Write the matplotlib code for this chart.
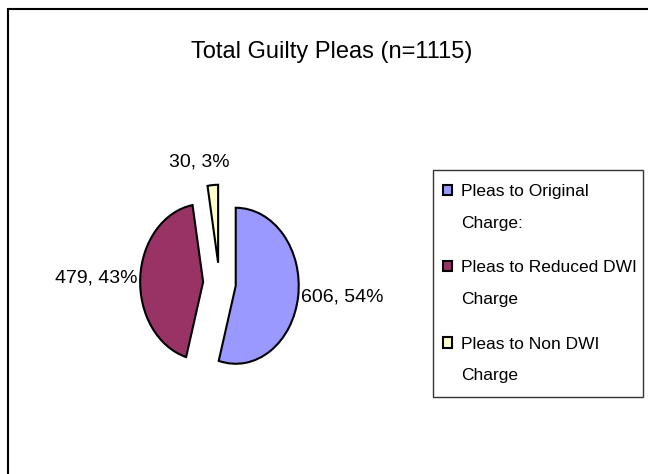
import matplotlib.pyplot as plt
from matplotlib.patches import Rectangle
from matplotlib.legend_handler import HandlerPatch

# pie data
labels = ["Pleas to Original\nCharge:", "Pleas to Reduced DWI\nCharge", "Pleas to Non DWI\nCharge"]
counts = [606, 479, 30]
colors = ["#9999FF", "#993366", "#FFFFCC"]
title = "Total Guilty Pleas (n=1115)"

plt.rcParams['font.family'] = ['Liberation Sans Narrow', 'Liberation Sans', 'DejaVu Sans']

W, H = 648, 474
fig = plt.figure(figsize=(W / 100, H / 100), dpi=100)

# outer chart border (left + top only visible)
fig.add_artist(Rectangle((8 / W, -0.1), 2.0, 1.1 - 9 / H, transform=fig.transFigure,
                         fill=False, edgecolor="black", linewidth=1.5))

# pie axes, stretched so the pie is an ellipse like the excel one
cx, cy, rx, ry = 219.5, 283, 63, 78
ax = fig.add_axes([(cx - 1.25 * rx) / W, 1 - (cy + 1.25 * ry) / H, 2.5 * rx / W, 2.5 * ry / H])

total = sum(counts)
texts_lbl = [f"{c}, {round(100 * c / total)}%" for c in counts]
wedges, texts = ax.pie(counts, colors=colors, startangle=90, counterclock=False,
                       explode=[0.26] * 3, labels=texts_lbl, labeldistance=1.05,
                       wedgeprops=dict(edgecolor="black", linewidth=1.5),
                       textprops=dict(fontsize=14))
ax.set_aspect('auto')
ax.set_xlim(-1.25, 1.25)
ax.set_ylim(-1.25, 1.25)
ax.axis('off')

# small slice label sits above the wedge
texts[2].set_position(((199 - cx) / rx, (cy - 162) / ry))
texts[2].set_ha('center')

fig.text(0.5 * (193 + 470) / W, 1 - 52 / H, title, ha='center', va='center', fontsize=17)


# legend square next to the first line of the two line label
def top_square(legend, orig_handle, xdescent, ydescent, width, height, fontsize):
    return Rectangle((-xdescent - 3, -ydescent + 12.5), width, height)


leg = fig.legend(wedges, labels, loc='upper left', mode='expand',
                 bbox_to_anchor=(433 / W, 1 - 396 / H, 210 / W, 226 / H),
                 fancybox=False, frameon=True, edgecolor="black", fontsize=12.5,
                 handlelength=0.55, handleheight=0.55, handletextpad=0.26,
                 labelspacing=1.7, borderpad=0.8, borderaxespad=0,
                 handler_map={w: HandlerPatch(patch_func=top_square) for w in wedges})
leg.get_frame().set_linewidth(1.0)
for t in leg.get_texts():
    t.set_linespacing(2.4)

fig.savefig("out.png", dpi=100)
